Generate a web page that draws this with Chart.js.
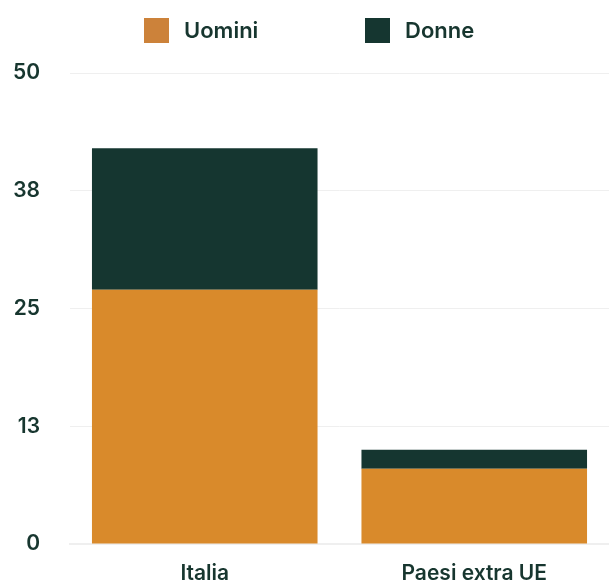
<!DOCTYPE html>
<html lang="it">
<head>
<meta charset="utf-8">
<title>Uomini e donne</title>
<script src="https://cdn.jsdelivr.net/npm/chart.js@4/dist/chart.umd.min.js"></script>
<style>
  html, body { margin: 0; padding: 0; background: #fff; }
  #wrap { width: 609px; height: 582px; position: relative; }
</style>
</head>
<body>
<div id="wrap"><canvas id="genderChart"></canvas></div>
<script>
const categories = ['Italia', 'Paesi extra UE'];
const uomini = [27, 8];
const donne = [15, 2];
const seriesNames = ['Uomini', 'Donne'];

const INK = '#17362f';
const ORANGE = '#d98a2b';
const GREEN = '#153630';
const FONT = 'Inter, "Noto Sans", sans-serif';

// legend drawn by hand so the spacing can follow the layout
const topLegend = {
  id: 'topLegend',
  afterDraw(chart) {
    const ctx = chart.ctx;
    const items = [
      { text: seriesNames[0], color: '#cc823a', x: 144 },
      { text: seriesNames[1], color: GREEN, x: 365 }
    ];
    ctx.save();
    ctx.font = '600 22px ' + FONT;
    ctx.textBaseline = 'middle';
    items.forEach(it => {
      ctx.fillStyle = it.color;
      ctx.fillRect(it.x, 18, 25, 25);
      ctx.fillStyle = INK;
      ctx.fillText(it.text, it.x + 40, 31);
    });
    ctx.restore();
  }
};

new Chart(document.getElementById('genderChart'), {
  type: 'bar',
  data: {
    labels: categories,
    datasets: [
      { label: seriesNames[0], data: uomini, backgroundColor: ORANGE },
      { label: seriesNames[1], data: donne, backgroundColor: GREEN }
    ]
  },
  options: {
    responsive: true,
    maintainAspectRatio: false,
    animation: false,
    layout: { padding: { top: 73, left: 0, right: 0, bottom: 0 } },
    datasets: { bar: { categoryPercentage: 0.9, barPercentage: 0.93 } },
    plugins: {
      legend: { display: false },
      tooltip: { enabled: false }
    },
    scales: {
      x: {
        stacked: true,
        grid: { display: false },
        border: { display: true, color: '#efefef', width: 2 },
        ticks: { color: INK, font: { family: FONT, size: 21, weight: 600 }, padding: 9, maxRotation: 0 },
        afterFit: scale => { scale.height = 38; }
      },
      y: {
        stacked: true,
        min: 0,
        max: 50,
        grid: { color: '#efefef', lineWidth: 1, drawTicks: false },
        border: { display: false },
        ticks: {
          stepSize: 12.5,
          padding: 30,
          color: INK,
          font: { family: FONT, size: 21, weight: 600 },
          callback: v => Math.round(v)
        },
        afterFit: scale => {
          scale.width = 70;
          scale.paddingTop = 0;
          scale.paddingBottom = 0;
        }
      }
    }
  },
  plugins: [topLegend]
});
</script>
</body>
</html>
